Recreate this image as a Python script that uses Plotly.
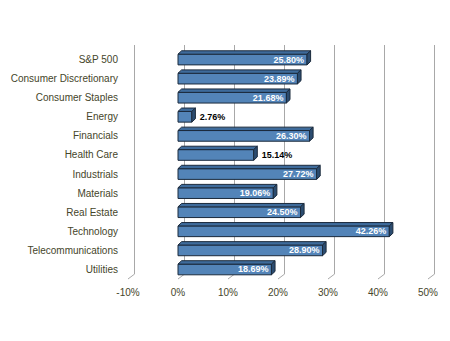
import plotly.graph_objects as go

# Sector returns (%)
categories = ["S&P 500", "Consumer Discretionary", "Consumer Staples", "Energy",
              "Financials", "Health Care", "Industrials", "Materials",
              "Real Estate", "Technology", "Telecommunications", "Utilities"]
returns = [25.80, 23.89, 21.68, 2.76, 26.30, 15.14, 27.72, 19.06,
           24.50, 42.26, 28.90, 18.69]
outside_labels = ["Energy", "Health Care"]
tick_values = [-10, 0, 10, 20, 30, 40, 50]
tick_text = ["-10%", "0%", "10%", "20%", "30%", "40%", "50%"]

W, H = 450, 341
X_MIN, X_MAX = -10, 52

# front plane (bars) and back wall (gridlines) in pixels
FRONT_L, FRONT_R, FRONT_T, FRONT_B = 128, 438, 50, 279
WALL_DX, WALL_DY = 6.67, 5
PX_PER_UNIT = (FRONT_R - FRONT_L) / (X_MAX - X_MIN)
WALL_PAD = 0.4  # keeps the -10% wall line inside the back plot area

# bar depth
BAR_W = 0.56
BAR_DX, BAR_DY = 3.6, 3.4
half_h = BAR_W * (FRONT_B - FRONT_T) / len(categories) / 2

FACE = "#5384b8"
TOP = "#3e6b9b"
SIDE = "#2b4c70"
EDGE = "#1b2a3c"
GRID = "#a8a8a8"
TEXT = "#45452a"

fig = go.Figure()

# back wall subplot only carries the gridlines
fig.add_trace(go.Scatter(x=[], y=[], xaxis="x", yaxis="y", showlegend=False))

ypos = list(range(len(categories)))
labels = [("\u00a0\u00a0" if c in outside_labels else "") + f"{v:.2f}%"
          for c, v in zip(categories, returns)]
positions = ["outside" if c in outside_labels else "inside" for c in categories]

fig.add_trace(go.Bar(
    x=returns, y=ypos, orientation="h", xaxis="x2", yaxis="y2",
    width=BAR_W,
    marker=dict(color=FACE, line=dict(color=EDGE, width=1)),
    text=labels, textposition=positions, insidetextanchor="end",
    constraintext="none", cliponaxis=False,
    insidetextfont=dict(family="Liberation Sans", size=9, color="white", weight="bold"),
    outsidetextfont=dict(family="Liberation Sans", size=9, color="black", weight="bold"),
    showlegend=False, hoverinfo="skip",
))

shapes = []
ddx = BAR_DX / PX_PER_UNIT
for i, v in enumerate(returns):
    top_path = (f"M 0,{half_h} L {v},{half_h} L {v + ddx},{half_h + BAR_DY} "
                f"L {ddx},{half_h + BAR_DY} Z")
    side_path = (f"M {v},{half_h} L {v + ddx},{half_h + BAR_DY} "
                 f"L {v + ddx},{-half_h + BAR_DY} L {v},{-half_h} Z")
    for path, col in ((top_path, TOP), (side_path, SIDE)):
        shapes.append(dict(type="path", xref="x2", yref="y2",
                           xsizemode="scaled", ysizemode="pixel", yanchor=i,
                           path=path, fillcolor=col,
                           line=dict(color=EDGE, width=1)))

# floor diagonals joining the wall gridlines to the front plane
for t in tick_values:
    shapes.append(dict(type="line", xref="x2", yref="paper", layer="below",
                       x0=t, x1=t + WALL_DX / PX_PER_UNIT,
                       y0=1 - FRONT_B / H, y1=1 - (FRONT_B - WALL_DY) / H,
                       line=dict(color=GRID, width=1)))

wall_l = FRONT_L + WALL_DX - WALL_PAD * PX_PER_UNIT
fig.update_layout(
    width=W, height=H,
    margin=dict(l=0, r=0, t=0, b=0, autoexpand=False),
    paper_bgcolor="white", plot_bgcolor="rgba(0,0,0,0)",
    font=dict(family="Liberation Sans", size=10, color=TEXT),
    xaxis=dict(domain=[wall_l / W, (FRONT_R + WALL_DX) / W],
               range=[X_MIN - WALL_PAD, X_MAX], tickvals=tick_values,
               showticklabels=False, showgrid=True, gridcolor=GRID, gridwidth=1,
               zeroline=False, showline=False, anchor="y", automargin=False),
    yaxis=dict(domain=[1 - (FRONT_B - WALL_DY) / H, 1 - (FRONT_T - WALL_DY) / H],
               range=[0, 1], visible=False, anchor="x", automargin=False),
    xaxis2=dict(domain=[FRONT_L / W, FRONT_R / W], range=[X_MIN, X_MAX],
                tickvals=tick_values, ticktext=tick_text, showgrid=False,
                zeroline=False, showline=False, anchor="y2", automargin=False,
                ticks="outside", ticklen=4, tickcolor="rgba(0,0,0,0)"),
    yaxis2=dict(domain=[1 - FRONT_B / H, 1 - FRONT_T / H],
                range=[len(categories) - 0.5, -0.5],
                tickvals=ypos, ticktext=categories, showgrid=False,
                zeroline=False, showline=False, anchor="x2", automargin=False,
                ticks="outside", ticklen=7, tickcolor="rgba(0,0,0,0)"),
    shapes=shapes,
)

fig.write_html("out.html")
